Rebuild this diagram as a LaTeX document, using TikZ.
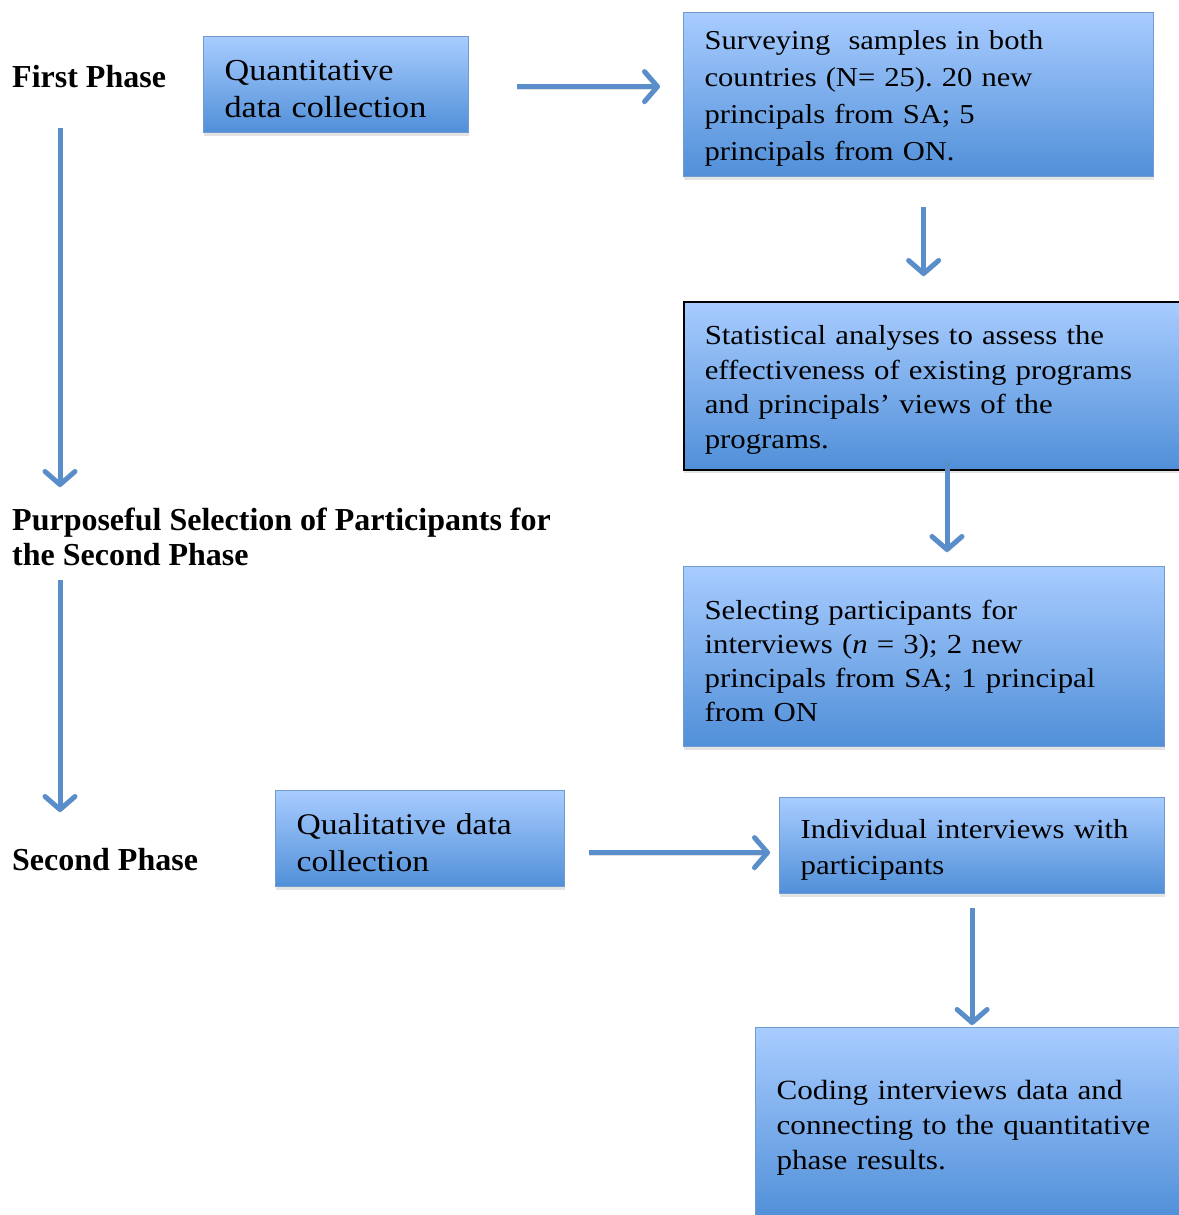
\documentclass[tikz,border=0pt]{standalone}
\usepackage{fontspec}
\setmainfont{Liberation Serif}
\newfontfamily\bx[FakeStretch=1.12]{Liberation Serif}
\usetikzlibrary{arrows.meta,shadows,calc}
\definecolor{boxtop}{RGB}{168,204,255}
\definecolor{boxbot}{RGB}{80,143,216}
\definecolor{boxline}{RGB}{112,156,210}
\definecolor{arrblue}{RGB}{90,142,202}
\frenchspacing
\hyphenpenalty=10000
\exhyphenpenalty=10000
\tikzset{
  bluebox/.style={draw=boxline, line width=1.2pt, top color=boxtop, bottom color=boxbot,
    drop shadow={opacity=0.22, shadow xshift=0pt, shadow yshift=-3pt},
    anchor=north west, align=left, inner xsep=21pt, inner ysep=0pt,
    execute at end node={\par\vspace{-8pt}}},
  lbl/.style={font=\bfseries\fontsize{32}{35}\selectfont, align=left, inner sep=0pt},
  arr/.style={draw=arrblue, line width=5pt,
    -{Straight Barb[length=13pt, width=30pt, line width=5pt, round]},
    preaction={draw=black, opacity=0.12, transform canvas={yshift=-3pt}}}
}
\begin{document}
\begin{tikzpicture}[x=1pt,y=-1pt]
\useasboundingbox (0,0) rectangle (1178,1215);
\fill[white] (0,0) rectangle (1178,1215);

% labels
\node[lbl, anchor=base west] (l1) at (12,88) {First Phase};
\node[lbl, anchor=north west] (l2) at (12,508) {Purposeful Selection of Participants for\\the Second Phase};
\node[lbl, anchor=base west] (l3) at (12,870) {Second Phase};

% boxes
\node[bluebox, minimum width=265pt, minimum height=96pt, text width=223pt,
  font=\bx\fontsize{30.5}{37}\selectfont] (b1) at (203,36)
  {Quantitative\\data collection};
\node[bluebox, minimum width=470pt, minimum height=164pt, text width=428pt,
  font=\bx\fontsize{27.3}{37}\selectfont] (b2) at (683,12)
  {Surveying\ \ samples in both\\countries (N= 25). 20 new\\principals from SA; 5\\principals from ON.};
\node[bluebox, draw=black, line width=1.5pt, minimum width=505pt, minimum height=168pt, text width=463pt,
  font=\bx\fontsize{27.5}{34.5}\selectfont] (b3) at (683,301)
  {Statistical analyses to assess the\\effectiveness of existing programs\\and principals’ views of the\\programs.};
\node[bluebox, minimum width=481pt, minimum height=180pt, text width=439pt,
  font=\bx\fontsize{27.5}{34}\selectfont] (b4) at (683,566)
  {Selecting participants for\\interviews (\textit{n} = 3); 2 new\\principals from SA; 1 principal\\from ON};
\node[bluebox, minimum width=289pt, minimum height=96pt, text width=247pt,
  font=\bx\fontsize{30}{37}\selectfont] (b5) at (275,790)
  {Qualitative data\\collection};
\node[bluebox, minimum width=385pt, minimum height=96pt, text width=343pt,
  font=\bx\fontsize{27.5}{36}\selectfont] (b6) at (779,797)
  {Individual interviews with\\participants};
\node[bluebox, minimum width=450pt, minimum height=192pt, text width=408pt,
  font=\bx\fontsize{27.8}{35}\selectfont] (b7) at (755,1027)
  {Coding interviews data and\\connecting to the quantitative\\phase results.};

% connector end points
\coordinate (a1s) at ($(b1.east)+(48,2)$);
\coordinate (a1e) at ($(b2.west)+(-23,-8)$);
\coordinate (a2s) at ($(b2.south)+(5,30)$);
\coordinate (a2e) at ($(a2s |- b3.north)+(0,-25)$);
\coordinate (a3s) at ($(b3.south west)+(264,-9)$);
\coordinate (a3e) at ($(b4.north west)+(264,-14)$);
\coordinate (a6s) at ($(b5.east)+(24,14)$);
\coordinate (a6e) at ($(b6.west)+(-9,7)$);
\coordinate (a7s) at ($(b6.south)+(0,14)$);
\coordinate (a7e) at ($(a7s |- b7.north)+(0,-2)$);
\coordinate (a4s) at ($(l1.base west)+(48,40)$);
\coordinate (a4e) at ($(l2.north west)+(48,-21)$);
\coordinate (a5s) at ($(l2.south west)+(48,14)$);
\coordinate (a5e) at ($(l3.base west)+(48,-58)$);

% connectors
\draw[arr] (a1s) -- (a1e);
\draw[arr] (a2s) -- (a2e);
\draw[arr] (a3s) -- (a3e);
\draw[arr] (a6s) -- (a6e);
\draw[arr] (a7s) -- (a7e);
\draw[arr] (a4s) -- (a4e);
\draw[arr] (a5s) -- (a5e);
\end{tikzpicture}
\end{document}
